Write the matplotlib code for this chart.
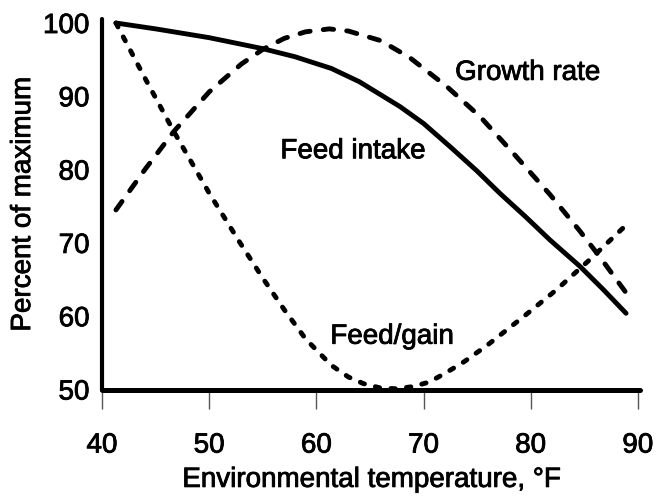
import matplotlib
matplotlib.use("agg")
import matplotlib.pyplot as plt
import matplotlib.patheffects as pe

# values (percent of maximum vs temperature, F)
intake_t = [41.3, 45, 50, 55, 58, 61.4, 64, 67.8, 70, 72.5, 75, 77.1, 79.5, 81.8, 84.6, 86.8, 88.9]
intake_v = [100, 99.2, 98.0, 96.5, 95.4, 93.8, 92.0, 88.6, 86.3, 83.1, 79.8, 76.8, 73.6, 70.4, 66.8, 63.6, 60.4]

growth_t = [41.3, 44, 46.7, 50, 53, 55, 57, 59, 61.2, 63, 66, 68.7, 72.2, 75.3, 78.4, 81.8, 84.6, 86.5, 89.4]
growth_v = [74.5, 80.0, 85.2, 90.6, 94.4, 96.4, 97.9, 98.8, 99.2, 98.9, 97.6, 95.3, 91.3, 87.2, 82.2, 76.6, 71.6, 68.0, 62.2]

fg_t = [41.3, 44, 46.7, 50, 52.8, 55, 57, 59, 61.4, 63, 64.4, 66, 67.5, 69, 70.5, 72, 73.8, 76, 79.3, 82.4, 85.5, 89.1]
fg_v = [100, 92.5, 85.2, 76.8, 70.2, 65.2, 60.9, 56.9, 53.3, 51.7, 50.8, 50.2, 50.1, 50.4, 51.0, 52.2, 53.8, 56.1, 59.9, 63.6, 67.7, 72.7]

plt.rcParams["font.family"] = ["Liberation Sans", "DejaVu Sans"]
plt.rcParams["lines.scale_dashes"] = False

# the scanned text looks a bit heavier than plain Liberation Sans
bold_fx = [pe.withStroke(linewidth=0.6, foreground="black")]

fig = plt.figure(figsize=(6.65, 4.96), dpi=100)
ax = fig.add_axes([0.1534, 0.2147, 0.8090, 0.7463])

ax.plot(intake_t, intake_v, color="black", lw=3.5, solid_capstyle="round")
ax.plot(growth_t, growth_v, color="black", lw=3.5,
        linestyle=(0, (7.5, 9.5)), dash_capstyle="round")
ax.plot(fg_t, fg_v, color="black", lw=3.5,
        linestyle=(0, (3.2, 8.1)), dash_capstyle="round")

ax.text(79.7, 93.2, "Growth rate", fontsize=20, ha="center", va="center", path_effects=bold_fx)
ax.text(63.4, 82.5, "Feed intake", fontsize=20, ha="center", va="center", path_effects=bold_fx)
ax.text(67.05, 57.2, "Feed/gain", fontsize=20, ha="center", va="center", path_effects=bold_fx)

ax.set_xlim(40, 90.2)
ax.set_ylim(50, 100.5)
ax.set_xticks([40, 50, 60, 70, 80, 90])
ax.set_yticks([50, 60, 70, 80, 90, 100])

for side in ["top", "right"]:
    ax.spines[side].set_visible(False)
ax.spines["left"].set_linewidth(3.0)
ax.spines["bottom"].set_linewidth(3.6)
ax.spines["left"].set_capstyle("round")
ax.spines["bottom"].set_capstyle("round")

ax.tick_params(axis="x", direction="out", length=14, width=1.0, color="#555555",
               pad=17, labelsize=20)
ax.tick_params(axis="y", length=0, pad=9, labelsize=20)
for lbl in ax.get_xticklabels() + ax.get_yticklabels():
    lbl.set_path_effects(bold_fx)

ax.set_xlabel("Environmental temperature, °F", fontsize=20, labelpad=6, path_effects=bold_fx)
ax.set_ylabel("Percent of maximum", fontsize=20, labelpad=5, path_effects=bold_fx)

fig.savefig("out.png", dpi=100)
